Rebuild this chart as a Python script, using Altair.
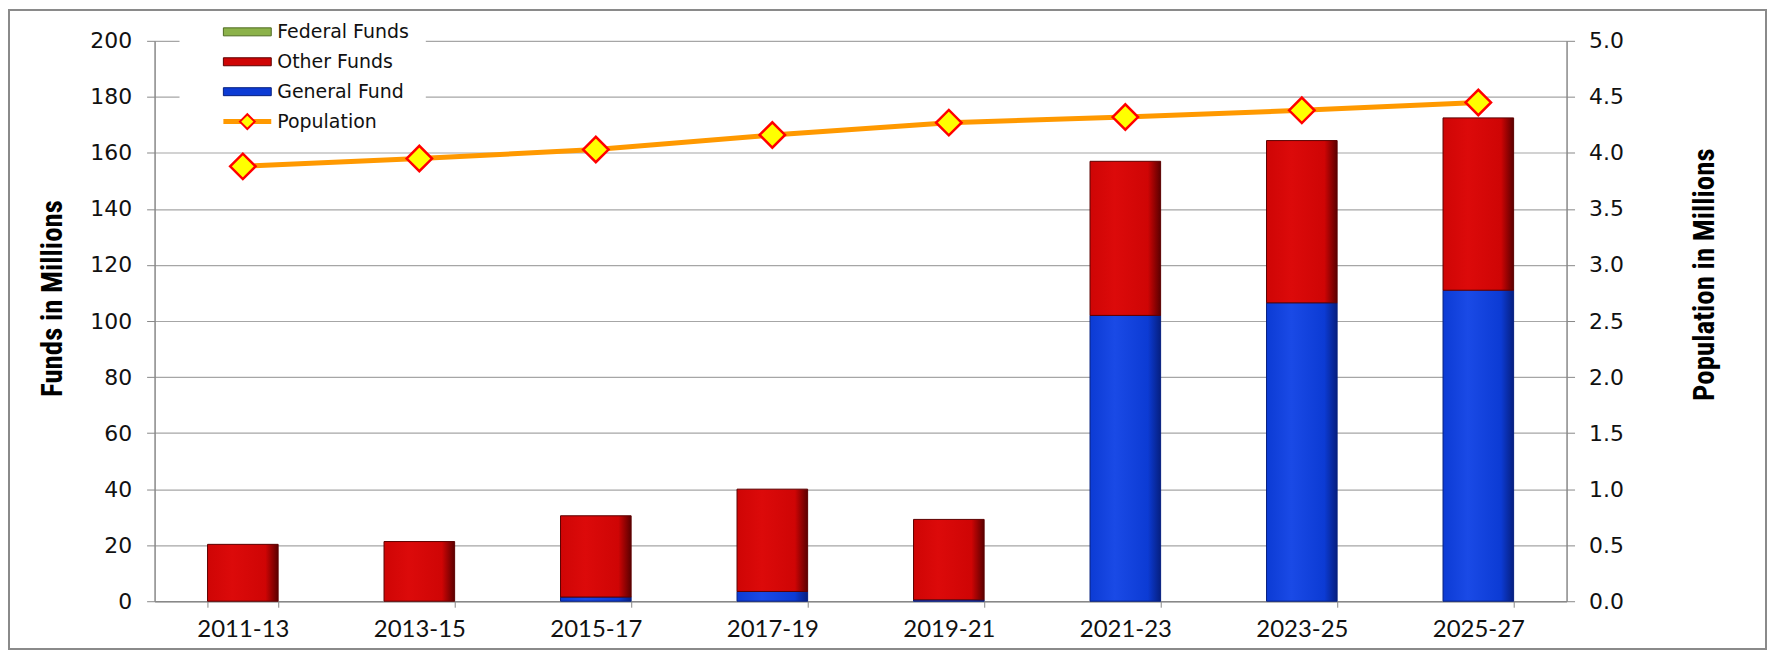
import altair as alt
import pandas as pd

# ---- data ----
periods = ["2011-13", "2013-15", "2015-17", "2017-19", "2019-21", "2021-23", "2023-25", "2025-27"]
general_fund = [0.0, 0.0, 1.5, 3.5, 0.5, 102.0, 106.5, 111.0]
other_funds = [20.3, 21.3, 29.0, 36.5, 28.7, 55.0, 57.9, 61.5]
federal_funds = [0.0, 0.0, 0.0, 0.0, 0.0, 0.0, 0.0, 0.0]
population = [3.88, 3.95, 4.03, 4.16, 4.27, 4.32, 4.38, 4.45]

series_names = ["General Fund", "Other Funds", "Federal Funds"]
series_colors = ["#0c3bd4", "#cf0505", "#8cb24a"]
series_dark = ["#061f80", "#5c0000", "#4f6b22"]
series_light = ["#1a4ae6", "#dc0a0a", "#9cc25a"]

legend_labels = ["Federal Funds", "Other Funds", "General Fund", "Population"]

# ---- tables ----
rows = []
for i, p in enumerate(periods):
    for k, (name, vals) in enumerate(zip(series_names, [general_fund, other_funds, federal_funds])):
        rows.append({"period": p, "series": name, "value": vals[i], "order": k})
bars_df = pd.DataFrame(rows)
pop_df = pd.DataFrame({"period": periods, "population": population})

W, H = 1416, 562
PAD_L, PAD_T, PAD_R, PAD_B = 147, 32, 201, 50

label_font = "DejaVu Sans"
cal_font = "Liberation Sans Narrow, Roboto Condensed, Lato"

x_enc = alt.X(
    "period:N",
    sort=periods,
    scale=alt.Scale(paddingInner=0.6, paddingOuter=0.3),
    axis=alt.Axis(
        title=None,
        labelAngle=0,
        labelFont="Lato",
        labelFontSize=24,
        labelColor="#111",
        labelPadding=10,
        tickBand="extent",
        tickSize=6,
        tickColor="#888",
        domainColor="#888",
        domainWidth=1.5,
        grid=False,
    ),
)

left_axis = alt.Axis(
    title="Funds in Millions",
    values=list(range(0, 201, 20)),
    labelFont=label_font,
    labelFontSize=22,
    labelColor="#111",
    labelPadding=15,
    tickSize=8,
    tickColor="#888",
    domainColor="#888",
    domainWidth=1.5,
    gridColor="#a6a6a6",
    gridWidth=1.2,
    titleFont=cal_font,
    titleFontSize=29,
    titleFontWeight="bold",
    titleColor="#000",
    titleAngle=270,
    titleBaseline="middle",
    titleX=-102,
    titleY=258,
)


def grad(dark, mid, light):
    return alt.Gradient(
        gradient="linear",
        x1=0, x2=1, y1=0, y2=0,
        stops=[
            alt.GradientStop(color=mid, offset=0),
            alt.GradientStop(color=light, offset=0.35),
            alt.GradientStop(color=mid, offset=0.82),
            alt.GradientStop(color=dark, offset=1),
        ],
    )


stacked = (
    alt.Chart(bars_df)
    .transform_filter("datum.value > 0")
    .transform_stack(stack="value", groupby=["period"], sort=[alt.SortField("order")], as_=["v0", "v1"])
)

bar_layers = []
for k, name in enumerate(series_names):
    bar_layers.append(
        stacked.transform_filter(alt.datum.series == name)
        .mark_bar(color=grad(series_dark[k], series_colors[k], series_light[k]), stroke=series_dark[k], strokeWidth=1)
        .encode(
            x=x_enc,
            y=alt.Y("v1:Q", scale=alt.Scale(domain=[0, 200], nice=False), axis=left_axis if k == 0 else None),
            y2="v0:Q",
        )
    )

line = alt.Chart(pop_df).mark_line(color="#ff9900", strokeWidth=5).encode(
    x=alt.X("period:N", sort=periods),
    y=alt.Y(
        "population:Q",
        scale=alt.Scale(domain=[0, 5], nice=False),
        axis=alt.Axis(
            title="Population in Millions",
            orient="right",
            values=[i / 2 for i in range(0, 11)],
            format=".1f",
            grid=False,
            labelFont=label_font,
            labelFontSize=22,
            labelColor="#111",
            labelPadding=14,
            tickSize=8,
            tickColor="#888",
            domainColor="#888",
            domainWidth=1.5,
            titleFont=cal_font,
            titleFontSize=29,
            titleFontWeight="bold",
            titleColor="#000",
            titleAngle=270,
            titleBaseline="middle",
            titleX=138,
            titleY=234,
        ),
    ),
)

points = alt.Chart(pop_df).mark_point(
    shape="diamond", filled=True, fill="#ffff00", stroke="#ff0000", strokeWidth=2.5, size=650, opacity=1
).encode(
    x=alt.X("period:N", sort=periods),
    y=alt.Y("population:Q", scale=alt.Scale(domain=[0, 5], nice=False), axis=None),
)

one = alt.Data(values=[{"a": 1}])

# ---- manual legend (white box covering grid, as in the reference) ----
legend_layers = [
    alt.Chart(one).mark_rect(fill="white").encode(
        x=alt.value(25), x2=alt.value(272), y=alt.value(-30), y2=alt.value(100)
    )
]
legend_fill = {
    "Federal Funds": (series_colors[2], series_dark[2]),
    "Other Funds": (series_colors[1], series_dark[1]),
    "General Fund": (series_colors[0], series_dark[0]),
}
LX0, LX1, LT, LY0, LDY = 69, 117, 123, -9, 30
for i, lab in enumerate(legend_labels):
    yy = LY0 + i * LDY
    if lab == "Population":
        legend_layers.append(
            alt.Chart(one).mark_rule(color="#ff9900", strokeWidth=5).encode(
                x=alt.value(LX0), x2=alt.value(LX1), y=alt.value(yy)
            )
        )
        legend_layers.append(
            alt.Chart(one).mark_point(
                shape="diamond", filled=True, fill="#ffff00", stroke="#ff0000", strokeWidth=2, size=220, opacity=1
            ).encode(x=alt.value((LX0 + LX1) / 2), y=alt.value(yy))
        )
    else:
        fc, sc = legend_fill[lab]
        legend_layers.append(
            alt.Chart(one).mark_rect(fill=fc, stroke=sc, strokeWidth=1).encode(
                x=alt.value(LX0), x2=alt.value(LX1), y=alt.value(yy - 4), y2=alt.value(yy + 4)
            )
        )
    legend_layers.append(
        alt.Chart(one).mark_text(
            text=lab, align="left", baseline="middle", font=label_font, fontSize=19, color="#111"
        ).encode(x=alt.value(LT), y=alt.value(yy))
    )

border = alt.Chart(one).mark_rect(fill=None, stroke="#8a8a8a", strokeWidth=2).encode(
    x=alt.value(-146), x2=alt.value(W + PAD_R - 1), y=alt.value(-31), y2=alt.value(H + PAD_B - 2)
)

chart = (
    alt.layer(*bar_layers, line, points, *legend_layers, border)
    .resolve_scale(y="independent")
    .properties(
        width=W,
        height=H,
        autosize=alt.AutoSizeParams(type="none"),
        padding={"left": PAD_L, "top": PAD_T, "right": PAD_R, "bottom": PAD_B},
        background="white",
    )
    .configure_view(stroke=None)
)

chart.save("out.html", embed_options={"renderer": "svg", "actions": False})
